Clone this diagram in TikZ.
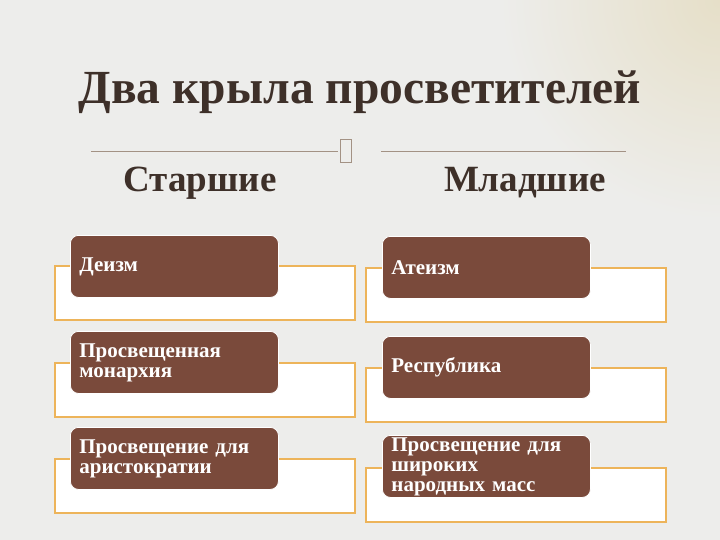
\documentclass[tikz,border=0pt]{standalone}
\usepackage{fontspec}
\setmainfont{Liberation Serif}
\usetikzlibrary{positioning}
\definecolor{bgGray}{HTML}{EDEDEB}
\definecolor{bgBeige}{HTML}{E6DFC8}
\definecolor{inkBrown}{HTML}{3E3029}
\definecolor{boxBrown}{HTML}{7A4A3B}
\definecolor{frameOrange}{HTML}{EDB45A}
\definecolor{ruleGray}{HTML}{A39284}
\tikzset{
x=1pt, y=-1pt, % pixel coordinates, y grows downwards
heading/.style={font=\bfseries\fontsize{37}{40}\selectfont, text=inkBrown, anchor=base}, % column headings
frame/.style={draw=frameOrange, line width=1.5pt, fill=white, anchor=north west, minimum width=300pt, minimum height=54pt, inner sep=0pt}, % white outer boxes
tag/.style={fill=boxBrown, draw=white, line width=0.8pt, rounded corners=8pt, text=white, font=\bfseries\fontsize{21}{20}\selectfont, align=left, text width=190pt, inner xsep=9pt, inner ysep=0pt, minimum height=62pt, anchor=north west}, % brown labels
}

\begin{document}
\begin{tikzpicture}

\useasboundingbox (0,0) rectangle (720,540);
\fill[bgGray] (0,0) rectangle (720,540);
\begin{scope}
\clip (0,0) rectangle (720,540);
\shade[inner color=bgBeige, outer color=bgGray] (720,0) circle (220);
\end{scope}

\node[font=\bfseries\fontsize{47.5}{50}\selectfont, text=inkBrown, anchor=base] (title) at (360,104) {Два крыла просветителей};

\coordinate (lA) at (91,152);
\coordinate (lB) at (338,152);
\coordinate (rA) at (381,152);
\coordinate (rB) at (626,152);
\draw[ruleGray, line width=1pt] (lA) -- (lB);
\draw[ruleGray, line width=1pt] (rA) -- (rB);
\node[draw=ruleGray, line width=1.3pt, minimum width=11pt, minimum height=23pt, inner sep=0pt] (mark) at (346,151) {};

\node[heading] (older) at (200,192) {Старшие};
\node[heading] (younger) at (525,192) {Младшие};

% older wing
\node[frame] (fDeism) at (54,265) {};
\node[tag] (tDeism) at (70,235) {Деизм};
\node[frame] (fMonarchy) at (54,362) {};
\node[tag] (tMonarchy) at (70,331) {Просвещенная монархия};
\node[frame] (fNobles) at (54,458) {};
\node[tag] (tNobles) at (70,427) {Просвещение для аристократии};

% younger wing
\node[frame] (fAtheism) at (365,267) {};
\node[tag] (tAtheism) at (382,236) {Атеизм};
\node[frame] (fRepublic) at (365,367) {};
\node[tag] (tRepublic) at (382,336) {Республика};
\node[frame] (fMasses) at (365,467) {};
\node[tag] (tMasses) at (382,435) {Просвещение для\\широких\\народных масс};

\end{tikzpicture}
\end{document}
